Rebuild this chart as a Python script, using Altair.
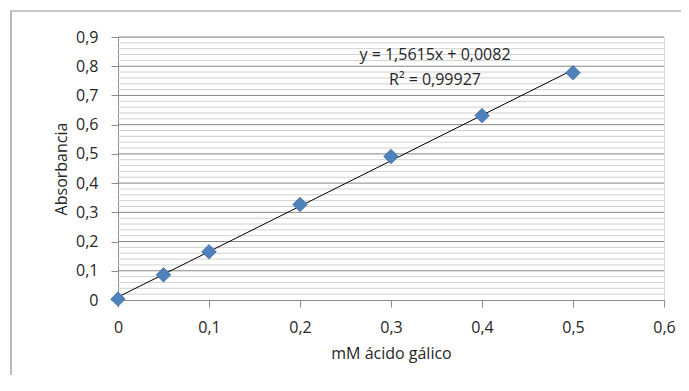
import altair as alt
import pandas as pd

# Data
conc = [0, 0.05, 0.1, 0.2, 0.3, 0.4, 0.5]
absorb = [0.003, 0.086, 0.165, 0.327, 0.491, 0.631, 0.778]
eq_lines = ["y = 1,5615x + 0,0082", "R² = 0,99927"]
x_ticks = [0, 0.1, 0.2, 0.3, 0.4, 0.5, 0.6]
y_ticks = [0, 0.1, 0.2, 0.3, 0.4, 0.5, 0.6, 0.7, 0.8, 0.9]
y_minor = [round(i * 0.02, 2) for i in range(46) if i % 5 != 0]

df = pd.DataFrame({"x": conc, "y": absorb})
minor_df = pd.DataFrame({"y": y_minor})
major_df = pd.DataFrame({"y": y_ticks[1:]})

FONT = "Open Sans"
FS = 16
TXT = "#262626"
W, H = 546, 263

xs = alt.Scale(domain=[0, 0.6], nice=False)
ys = alt.Scale(domain=[0, 0.9], nice=False)

label_expr = "datum.value == 0 ? '0' : replace(format(datum.value, '.1f'), '.', ',')"

x_axis = alt.Axis(
    values=x_ticks, labelExpr=label_expr, title="mM ácido gálico",
    grid=False, domainColor="#8c8c8c", tickColor="#8c8c8c", tickSize=7,
    labelFont=FONT, labelFontSize=FS, labelColor=TXT, labelOverlap=False,
    labelFlush=False, labelPadding=12, titleFont=FONT, titleFontSize=FS,
    titleFontWeight="normal", titleColor=TXT, titlePadding=10,
)
y_axis = alt.Axis(
    values=y_ticks, labelExpr=label_expr, title="Absorbancia",
    grid=False, domainColor="#8c8c8c", tickColor="#8c8c8c", tickSize=7,
    labelFont=FONT, labelFontSize=FS, labelColor=TXT, labelOverlap=False,
    labelFlush=False, labelPadding=13, titleFont=FONT, titleFontSize=FS,
    titleFontWeight="normal", titleColor=TXT, titlePadding=6,
)

minor = alt.Chart(minor_df).mark_rule(color="#d0d0d0", strokeWidth=1).encode(
    y=alt.Y("y:Q", scale=ys, axis=y_axis),
    x=alt.value(0), x2=alt.value(W),
)
major = alt.Chart(major_df).mark_rule(color="#868686", strokeWidth=1).encode(
    y=alt.Y("y:Q", scale=ys, axis=y_axis),
    x=alt.value(0), x2=alt.value(W),
)

trend = alt.Chart(df).transform_regression("x", "y", extent=[0, 0.5]).mark_line(
    color="#000000", strokeWidth=1
).encode(
    x=alt.X("x:Q", scale=xs, axis=x_axis),
    y=alt.Y("y:Q", scale=ys, axis=y_axis),
)

points = alt.Chart(df).mark_point(
    shape="diamond", filled=True, size=210, color="#4F81BD", opacity=1,
    stroke="#3C6DA6", strokeWidth=0.8,
).encode(
    x=alt.X("x:Q", scale=xs, axis=x_axis),
    y=alt.Y("y:Q", scale=ys, axis=y_axis),
)

eq_df = pd.DataFrame({"t": ["\n".join(eq_lines)]})
eq_text = alt.Chart(eq_df).mark_text(
    font=FONT, fontSize=FS, color=TXT, align="center", baseline="middle",
    lineBreak="\n", lineHeight=25,
).encode(
    text="t:N",
    x=alt.value(317),
    y=alt.value(18),
)

border = alt.Chart(pd.DataFrame({"a": [0]})).mark_rect(
    fill=None, stroke="#8c8c8c", strokeWidth=1.2
).encode(
    x=alt.value(-107), x2=alt.value(600),
    y=alt.value(-26), y2=alt.value(380),
)

chart = alt.layer(border, minor, major, trend, points, eq_text).properties(
    width=W, height=H,
    padding={"left": 110, "top": 29, "right": 17, "bottom": 75},
    autosize=alt.AutoSizeParams(type="none"),
).configure_view(stroke=None).configure(background="white")

chart.save("out.html", embed_options={"renderer": "svg", "actions": False})
